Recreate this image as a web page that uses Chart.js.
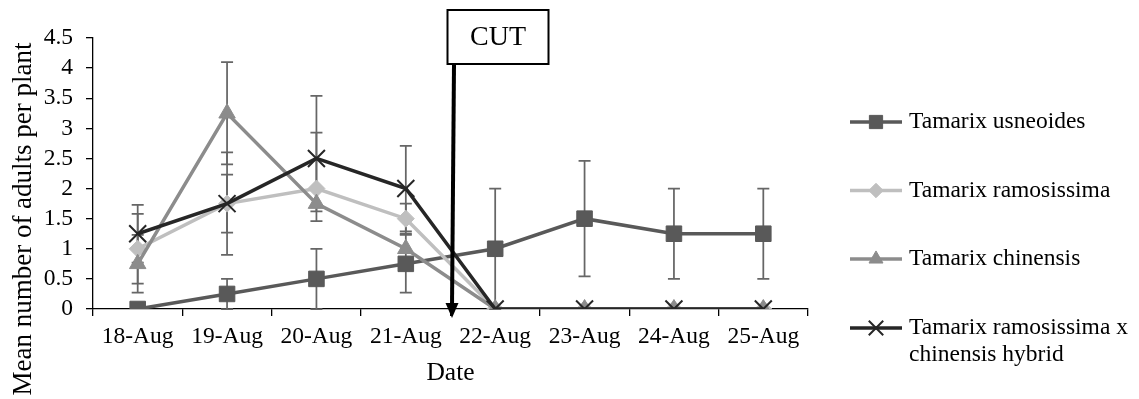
<!DOCTYPE html>
<html>
<head>
<meta charset="utf-8">
<script src="https://cdn.jsdelivr.net/npm/chart.js@4.4.1/dist/chart.umd.min.js"></script>
<style>
html,body{margin:0;padding:0;background:#fff;}
#wrap{width:1139px;height:399px;position:relative;}
</style>
</head>
<body>
<div id="wrap"><canvas id="c" width="1139" height="399"></canvas></div>
<script>
// ---------- data ----------
const categories = ['18-Aug','19-Aug','20-Aug','21-Aug','22-Aug','23-Aug','24-Aug','25-Aug'];
const yTickLabels = ['0','0.5','1','1.5','2','2.5','3','3.5','4','4.5'];

const seriesNames = ['Tamarix usneoides','Tamarix ramosissima','Tamarix chinensis','Tamarix ramosissima x chinensis hybrid'];
const legendLines = [['Tamarix usneoides'],['Tamarix ramosissima'],['Tamarix chinensis'],['Tamarix ramosissima x','chinensis hybrid']];

const usneoides        = [0, 0.25, 0.5, 0.75, 1, 1.5, 1.25, 1.25];
const usneoidesErrUp   = [0, 0.25, 0.5, 0.48, 1, 0.96, 0.75, 0.75];
const usneoidesErrDown = [0, 0.25, 0.5, 0.48, 1, 0.96, 0.75, 0.75];

const ramosissima        = [1, 1.75, 2, 1.5, 0, 0, 0, 0];
const ramosissimaErrUp   = [0.58, 0.48, 0.93, 0.25, 0, 0, 0, 0];
const ramosissimaErrDown = [0.58, 0.48, 0.38, 0.25, 0, 0, 0, 0];

const chinensis        = [0.75, 3.25, 1.75, 1, 0, 0, 0, 0];
const chinensisErrUp   = [0.48, 0.85, 0, 0, 0, 0, 0, 0];
const chinensisErrDown = [0.48, 0.85, 0, 0, 0, 0, 0, 0];

const hybrid        = [1.25, 1.75, 2.5, 2, 0, 0, 0, 0];
const hybridErrUp   = [0.48, 0.85, 1.04, 0.71, 0, 0, 0, 0];
const hybridErrDown = [0.48, 0.85, 1.04, 0.71, 0, 0, 0, 0];

const cutLabel = 'CUT';
const cutPosition = 3.5; // between 21-Aug and 22-Aug
const xTitle = 'Date';
const yTitle = 'Mean number of adults per plant';

// ---------- styles ----------
const FONT = "'Liberation Serif', 'Times New Roman', serif";
Chart.defaults.font.family = FONT;
Chart.defaults.color = '#000';

function ds(label, data, up, down, color, style, radius, pbw, order) {
  return {
    label, data, errUp: up, errDown: down,
    borderColor: color, backgroundColor: color,
    pointBackgroundColor: color, pointBorderColor: color,
    borderWidth: 3.5, pointStyle: style, pointRadius: radius,
    pointBorderWidth: pbw, tension: 0, order
  };
}

const datasets = [
  ds(seriesNames[0], usneoides, usneoidesErrUp, usneoidesErrDown, '#595959', 'rect', 11, 1, 4),
  ds(seriesNames[1], ramosissima, ramosissimaErrUp, ramosissimaErrDown, '#BFBFBF', 'rectRot', 8.5, 1, 3),
  ds(seriesNames[2], chinensis, chinensisErrUp, chinensisErrDown, '#8C8C8C', 'triangle', 9.5, 1, 2),
  ds(seriesNames[3], hybrid, hybridErrUp, hybridErrDown, '#262626', 'crossRot', 12, 2, 1)
];

// ---------- plugins ----------
const errorBars = {
  id: 'errorBars',
  beforeDatasetsDraw(chart) {
    const {ctx, scales: {x, y}} = chart;
    ctx.save();
    ctx.strokeStyle = '#666666';
    ctx.lineWidth = 1.75;
    const hw = 6;
    chart.data.datasets.forEach(d => {
      d.data.forEach((v, i) => {
        const up = d.errUp[i], dn = d.errDown[i];
        if (!up && !dn) return;
        const px = x.getPixelForValue(i);
        const yt = y.getPixelForValue(v + up);
        const yb = y.getPixelForValue(v - dn);
        ctx.beginPath();
        ctx.moveTo(px, yt); ctx.lineTo(px, yb);
        if (up) { ctx.moveTo(px - hw, yt); ctx.lineTo(px + hw, yt); }
        if (dn) { ctx.moveTo(px - hw, yb); ctx.lineTo(px + hw, yb); }
        ctx.stroke();
      });
    });
    ctx.restore();
  }
};

const extras = {
  id: 'extras',
  afterDraw(chart) {
    const {ctx, chartArea, scales: {x, y}} = chart;
    ctx.save();
    // y axis title
    ctx.save();
    ctx.translate(23.5, 219);
    ctx.rotate(-Math.PI / 2);
    ctx.font = '27px ' + FONT;
    ctx.fillStyle = '#000';
    ctx.textAlign = 'center';
    ctx.textBaseline = 'middle';
    ctx.fillText(yTitle, 0, 0);
    ctx.restore();

    // CUT box and arrow
    const bx = x.getPixelForValue(cutPosition);
    const boxL = bx - 3, boxT = 10, boxW = 101, boxH = 54;
    ctx.fillStyle = '#fff';
    ctx.fillRect(boxL, boxT, boxW, boxH);
    ctx.strokeStyle = '#000';
    ctx.lineWidth = 2;
    ctx.strokeRect(boxL, boxT, boxW, boxH);
    ctx.font = '28px ' + FONT;
    ctx.fillStyle = '#000';
    ctx.textAlign = 'center';
    ctx.textBaseline = 'middle';
    ctx.fillText(cutLabel, boxL + boxW / 2, boxT + boxH / 2 + 1);
    const tipY = chartArea.bottom + 9;
    ctx.beginPath();
    ctx.lineWidth = 4;
    ctx.moveTo(bx + 3.5, boxT + boxH + 1);
    ctx.lineTo(bx + 1.5, tipY - 12);
    ctx.stroke();
    ctx.beginPath();
    ctx.moveTo(bx + 1.5, tipY);
    ctx.lineTo(bx - 5, tipY - 15);
    ctx.lineTo(bx + 8, tipY - 15);
    ctx.closePath();
    ctx.fill();

    // legend
    const lx0 = chartArea.right + 42, lx1 = chartArea.right + 94, tx = chartArea.right + 101;
    const ys = [122, 190.5, 259, 328];
    chart.data.datasets.forEach((d, i) => {
      const ly = ys[i];
      ctx.strokeStyle = d.borderColor;
      ctx.lineWidth = 3.5;
      ctx.beginPath();
      ctx.moveTo(lx0, ly); ctx.lineTo(lx1, ly);
      ctx.stroke();
      ctx.fillStyle = d.pointBackgroundColor;
      ctx.strokeStyle = d.pointBorderColor;
      ctx.lineWidth = d.pointBorderWidth;
      Chart.helpers.drawPoint(ctx, {pointStyle: d.pointStyle, radius: d.pointRadius * 0.85, rotation: 0, borderWidth: d.pointBorderWidth}, (lx0 + lx1) / 2, ly);
      ctx.font = '23.5px ' + FONT;
      ctx.fillStyle = '#000';
      ctx.textAlign = 'left';
      ctx.textBaseline = 'middle';
      legendLines[i].forEach((t, k) => ctx.fillText(t, tx, ly + k * 27));
    });
    ctx.restore();
  }
};

new Chart(document.getElementById('c'), {
  type: 'line',
  data: { labels: categories, datasets },
  options: {
    responsive: false,
    devicePixelRatio: 1,
    animation: false,
    layout: { padding: { top: 38, right: 331, left: 0, bottom: 0 } },
    plugins: { legend: { display: false }, tooltip: { enabled: false } },
    scales: {
      x: {
        type: 'category',
        offset: true,
        grid: { offset: true, drawOnChartArea: false, drawTicks: true, tickLength: 7, color: '#000', lineWidth: 1.3 },
        border: { display: true, color: '#000', width: 1.3 },
        ticks: { font: { size: 23.5 }, color: '#000', maxRotation: 0, minRotation: 0, padding: 7, autoSkip: false },
        title: { display: true, text: xTitle, font: { size: 25.5 }, color: '#000', padding: { top: 0, bottom: 10 } },
        afterFit(s) { s.height = 90; }
      },
      y: {
        min: 0, max: 4.5,
        ticks: { stepSize: 0.5, autoSkip: false, font: { size: 23.5 }, color: '#000', padding: 13,
          callback: (v, i) => yTickLabels[i] },
        grid: { drawOnChartArea: false, drawTicks: true, tickLength: 7, color: '#000', lineWidth: 1.3 },
        border: { display: true, color: '#000', width: 1.3 },
        afterFit(s) { s.width = 93; }
      }
    }
  },
  plugins: [errorBars, extras]
});
</script>
</body>
</html>
